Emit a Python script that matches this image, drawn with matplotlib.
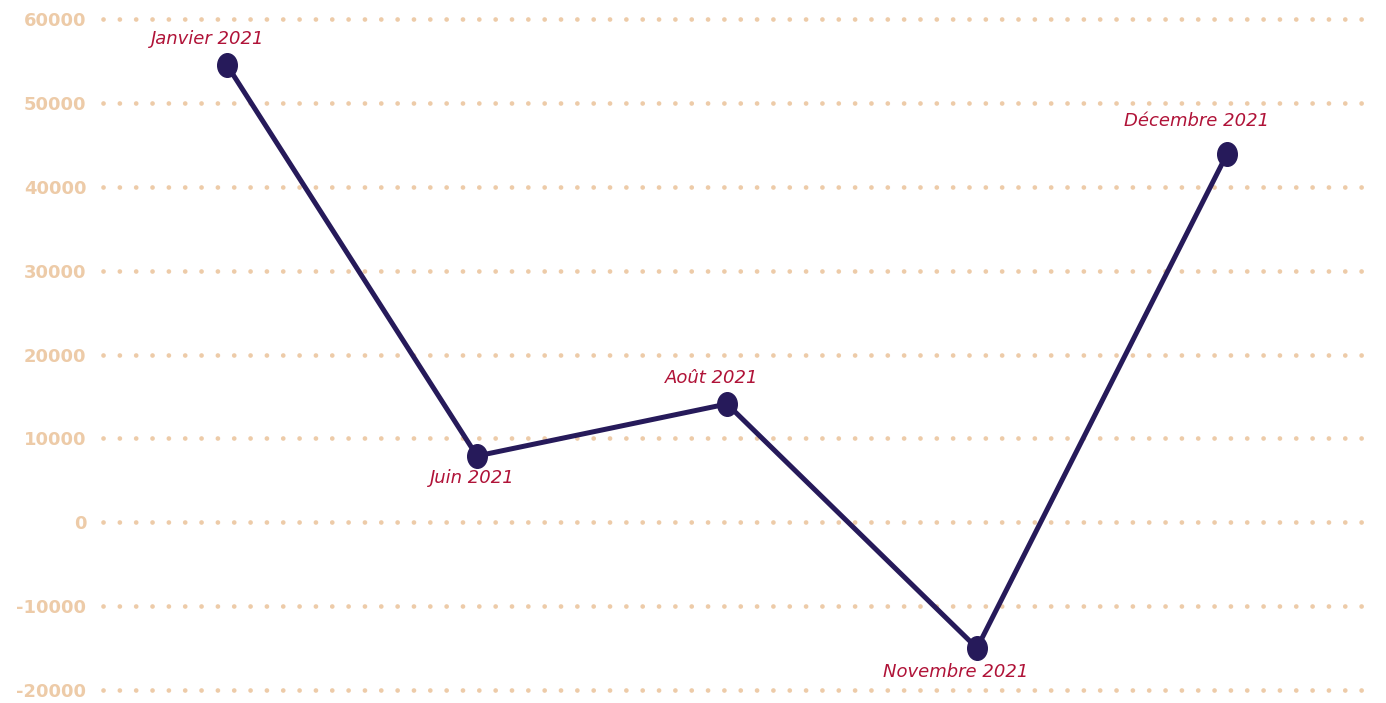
import matplotlib
matplotlib.use("Agg")
import matplotlib.pyplot as plt
from matplotlib.path import Path
from matplotlib.transforms import Affine2D

categories = ["Janvier 2021", "Juin 2021", "Août 2021", "Novembre 2021", "Décembre 2021"]
values = [54500, 7900, 14100, -15000, 43900]
yticks = [-20000, -10000, 0, 10000, 20000, 30000, 40000, 50000, 60000]

# label placement (style only): pixel offsets
label_dx = [-19, -5, -15, -21, -30]
label_dy = [26, -22, 26, -24, 33]

W, H = 1386, 703
fig = plt.figure(figsize=(W / 100, H / 100), dpi=100)
ax = fig.add_axes([103 / W, 13 / H, 1265 / W, 671 / H])

xs = list(range(len(categories)))
ell = Path.unit_circle().transformed(Affine2D().scale(0.83, 1.0))
ax.plot(xs, values, color="#261A5A", lw=3.6, marker=ell, markersize=17,
        markerfacecolor="#261A5A", markeredgecolor="#261A5A", zorder=3,
        solid_capstyle="round")

for x, v, lab, dx, dy in zip(xs, values, categories, label_dx, label_dy):
    ax.annotate(lab, (x, v), xytext=(dx * 0.72, dy * 0.72), textcoords="offset points",
                ha="center", va="center", fontsize=13, style="italic",
                color="#B01338", family="DejaVu Sans", zorder=4)

ax.set_xlim(-0.496, 4.564)
ax.set_ylim(-20000, 60000)
ax.set_yticks(yticks)
ax.set_yticklabels([str(t) for t in yticks])
ax.set_xticks([])
for s in ax.spines.values():
    s.set_visible(False)
ax.tick_params(axis="y", length=0, pad=12, labelsize=13, labelcolor="#EDCBA8")
for t in ax.get_yticklabels():
    t.set_fontweight("bold")
    t.set_family("DejaVu Sans")
ax.yaxis.grid(True, color="#EDCBA8", lw=3.4, linestyle=(0, (0.01, 3.45)),
              dash_capstyle="round", clip_on=False)
ax.set_axisbelow(True)

fig.savefig("out.png", dpi=100)
